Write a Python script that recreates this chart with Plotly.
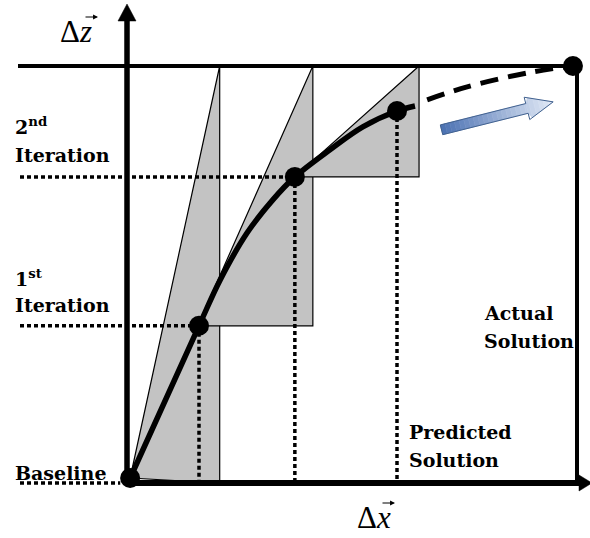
import plotly.graph_objects as go

# diagram units: the actual solution sits at (10, 10); origin at the axes corner
X0, Y0 = 127, 483      # pixel position of the origin
SX, SY = 45.0, 41.7    # pixels per unit

# solid convergence curve (baseline -> predicted solution)
curve_x = [0.07, 1.60, 2.07, 2.67, 3.24, 3.73, 4.51, 5.24, 6.00, 6.40]
curve_y = [0.12, 3.77, 4.87, 6.00, 6.79, 7.34, 7.99, 8.54, 8.92, 9.04]
# dashed continuation towards the actual solution
dash_x = [6.67, 7.56, 9.02, 9.91]
dash_y = [9.19, 9.50, 9.86, 10.00]
# baseline, 1st iteration, 2nd iteration, predicted, actual
point_x = [0.07, 1.60, 3.73, 6.00, 9.91]
point_y = [0.12, 3.77, 7.34, 8.92, 10.00]
# right edge of each grey step triangle
step_x = [2.06, 4.13, 6.49]
top_y = 10.0
actual_x = 10.0
# blue trend arrow (tail, tip)
trend_x = [6.99, 9.47]
trend_y = [8.47, 9.14]


def px(xp, yp):
    return (xp - X0) / SX, (Y0 - yp) / SY


def ux(u):
    return X0 + u * SX


def uy(v):
    return Y0 - v * SY


def line(fig, xs, ys, width, color="black", dash="solid", shape="linear"):
    fig.add_trace(go.Scatter(x=xs, y=ys, mode="lines", hoverinfo="skip",
                             line=dict(color=color, width=width, dash=dash, shape=shape)))


def poly(fig, xs, ys, fill, outline="black", width=1.2):
    fig.add_trace(go.Scatter(x=xs + xs[:1], y=ys + ys[:1], mode="lines", fill="toself",
                             fillcolor=fill, hoverinfo="skip",
                             line=dict(color=outline, width=width)))


fig = go.Figure()

# grey step triangles
grey = "#c3c3c3"
poly(fig, [point_x[0], step_x[0], step_x[0]], [point_y[0], top_y, 0], grey)
poly(fig, [point_x[0], step_x[1], step_x[1], point_x[1]],
     [point_y[0], top_y, point_y[1], point_y[1]], grey)
poly(fig, [point_x[2], step_x[2], step_x[2]], [point_y[2], top_y, point_y[2]], grey)

# dotted guides
left = px(20, 0)[0]
dot = "4px,3px"
line(fig, [left, point_x[1]], [point_y[1]] * 2, 3.5, dash=dot)
line(fig, [left, point_x[2]], [point_y[2]] * 2, 3.5, dash=dot)
line(fig, [left, -0.15], [0, 0], 3.5, dash=dot)
for i in (1, 2, 3):
    line(fig, [point_x[i]] * 2, [point_y[i], 0], 3.5, dash=dot)

# top line and actual-solution line
line(fig, [px(18, 0)[0], actual_x], [top_y, top_y], 4)
line(fig, [actual_x, actual_x], [top_y, 0], 4)

# main axes with arrowheads
ytip = px(0, 4)[1]
yhead = px(0, 21)[1]
xtip = px(592, 0)[0]
xhead = px(579, 0)[0]
line(fig, [0, 0], [0, yhead], 5.5)
line(fig, [0, xhead], [0, 0], 6)
poly(fig, [-9 / SX, 0, 9 / SX], [yhead, ytip, yhead], "black", width=0.5)
poly(fig, [xhead, xtip, xhead], [8 / SY, 0, -8 / SY], "black", width=0.5)

# curves
line(fig, curve_x, curve_y, 5.5, shape="spline")
line(fig, dash_x, dash_y, 5, dash="18px,10px", shape="spline")

# blue gradient arrow
tx, ty = ux(trend_x[0]), uy(trend_y[0])
hx, hy = ux(trend_x[1]), uy(trend_y[1])
L = ((hx - tx) ** 2 + (hy - ty) ** 2) ** 0.5
ex, ey = (hx - tx) / L, (hy - ty) / L
nx, ny = -ey, ex
head_len, head_w, shaft_w = 27, 11.5, 5


def half_w(s):
    if s <= L - head_len:
        return shaft_w
    return head_w * (L - s) / head_len


def local(s, w):
    return px(tx + ex * s + nx * w, ty + ey * s + ny * w)


c0 = (74, 112, 178)
c1 = (226, 234, 246)
n = 24
cuts = sorted(set([L * k / n for k in range(n + 1)] + [L - head_len]))
for a, b in zip(cuts[:-1], cuts[1:]):
    f = ((a + b) / 2) / L
    col = "rgb(%d,%d,%d)" % tuple(round(c0[j] + (c1[j] - c0[j]) * f) for j in range(3))
    wa = shaft_w if a < L - head_len else half_w(a)
    wb = half_w(b) if b > L - head_len else shaft_w
    pts = [local(a, -wa), local(b, -wb), local(b, wb), local(a, wa)]
    poly(fig, [p[0] for p in pts], [p[1] for p in pts], col, outline=col, width=0.6)

outline = [(0, -shaft_w), (L - head_len, -shaft_w), (L - head_len, -head_w), (L, 0),
           (L - head_len, head_w), (L - head_len, shaft_w), (0, shaft_w)]
ox = [local(s, w)[0] for s, w in outline]
oy = [local(s, w)[1] for s, w in outline]
line(fig, ox + ox[:1], oy + oy[:1], 1, color="#41618f")

# solution points
fig.add_trace(go.Scatter(x=point_x, y=point_y, mode="markers", hoverinfo="skip",
                         marker=dict(color="black", size=20)))

# labels
bold = "DejaVu Serif"


def label(text, xp, base, size, family=bold, weight="bold"):
    x, y = px(xp, base - 0.35 * size)
    fig.add_annotation(x=x, y=y, text=text, showarrow=False, xanchor="left",
                       yanchor="middle",
                       font=dict(family=family, size=size, color="black", weight=weight))


def vec(xp0, xp1, yp):
    # small vector arrow drawn above a symbol
    x, y = px(xp1, yp)
    fig.add_annotation(x=x, y=y, ax=xp0 - xp1, ay=0, text="", showarrow=True,
                       arrowhead=2, arrowsize=0.9, arrowwidth=1.1, arrowcolor="black")


label("2<sup>nd</sup>", 13, 133, 19)
label("Iteration", 13, 162, 19)
label("1<sup>st</sup>", 13, 285, 19)
label("Iteration", 13, 312, 19)
label("Baseline", 13, 480, 19)
label("Actual", 482, 320, 19)
label("Solution", 482, 348, 19)
label("Predicted", 407, 439, 19)
label("Solution", 407, 467, 19)
label("\u0394<i>z</i>", 58, 42, 31, family="Liberation Serif", weight="normal")
vec(84, 98, 17)
label("\u0394<i>x</i>", 355, 528, 31, family="Liberation Serif", weight="normal")
vec(381, 395, 503)

fig.update_layout(
    width=590, height=538, autosize=False,
    margin=dict(l=0, r=0, t=0, b=0),
    plot_bgcolor="white", paper_bgcolor="white",
    showlegend=False,
    xaxis=dict(range=[-X0 / SX, (590 - X0) / SX], visible=False),
    yaxis=dict(range=[(Y0 - 538) / SY, Y0 / SY], visible=False),
)

fig.write_html("out.html", config={"displayModeBar": False},
               post_script="document.body.style.margin='0';")
